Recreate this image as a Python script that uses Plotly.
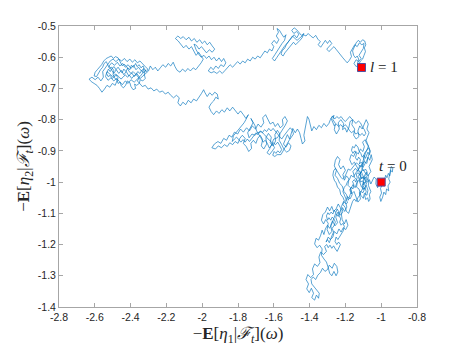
import plotly.graph_objects as go

# Hand-traced path of the sample trajectory (x, y), from t=0 to t=1
walk_xy = [
 (-1.000,-1.000),(-0.990,-0.988),(-0.982,-0.995),(-0.975,-0.978),(-0.968,-0.986),(-0.960,-0.972),(-0.952,-0.980),(-0.947,-0.962),(-0.938,-0.968),(-0.935,-0.955),(-0.944,-0.950),(-0.950,-0.965),(-0.958,-0.990),(-0.950,-1.000),(-0.962,-1.012),(-0.958,-1.028),(-0.970,-1.022),(-0.975,-1.040),(-0.985,-1.032),(-0.992,-1.048),(-1.002,-1.062),(-1.008,-1.048),(-0.998,-1.035),(-1.004,-1.020),(-0.995,-1.010),(-1.012,-1.004),(-1.020,-1.018),(-1.030,-1.006),(-1.028,-0.990),(-1.040,-0.984),(-1.048,-0.996),
 (-1.058,-1.006),(-1.066,-0.992),(-1.075,-1.000),(-1.072,-0.978),(-1.083,-0.968),(-1.094,-0.980),(-1.088,-0.998),(-1.102,-1.010),(-1.098,-0.988),(-1.112,-0.984),(-1.120,-1.000),(-1.110,-1.016),(-1.096,-1.022),(-1.084,-1.010),(-1.074,-1.026),(-1.080,-1.042),(-1.094,-1.036),(-1.100,-1.052),(-1.114,-1.042),(-1.124,-1.022),(-1.138,-1.016),(-1.132,-0.996),(-1.148,-0.986),(-1.158,-0.966),(-1.144,-0.956),(-1.130,-0.966),(-1.120,-0.946),(-1.106,-0.952),(-1.096,-0.934),(-1.080,-0.940),(-1.074,-0.920),(-1.064,-0.930),(-1.056,-0.912),(-1.050,-0.928),(-1.068,-0.950),(-1.058,-0.966),(-1.074,-0.980),(-1.090,-0.970),(-1.100,-0.960),(-1.116,-0.970),(-1.128,-0.982),(-1.118,-1.000),(-1.104,-0.996),(-1.094,-1.008),(-1.108,-1.026),(-1.122,-1.034),(-1.116,-1.054),(-1.130,-1.064),(-1.140,-1.048),(-1.152,-1.030),(-1.166,-1.038),(-1.172,-1.018),(-1.186,-1.010),(-1.180,-0.990),(-1.194,-0.980),(-1.206,-0.994),(-1.214,-0.976),(-1.200,-0.962),(-1.212,-0.948),(-1.226,-0.958),(-1.238,-0.944),(-1.230,-0.928),(-1.244,-0.918),(-1.256,-0.930),(-1.262,-0.948),(-1.250,-0.962),(-1.258,-0.978),(-1.244,-0.988),(-1.232,-1.004),(-1.218,-1.012),(-1.208,-1.030),(-1.194,-1.040),(-1.184,-1.058),
 (-1.178,-1.046),(-1.170,-1.034),(-1.176,-1.024),(-1.166,-1.016),(-1.158,-1.022),(-1.152,-1.010),(-1.160,-0.998),(-1.150,-0.992),(-1.142,-1.000),(-1.134,-0.986),(-1.140,-0.974),(-1.128,-0.970),(-1.120,-0.978),(-1.112,-0.966),(-1.104,-0.976),(-1.096,-0.990),(-1.088,-0.984),(-1.082,-0.994),(-1.090,-1.004),(-1.098,-1.000),(-1.106,-1.012),(-1.100,-1.024),(-1.090,-1.018),(-1.084,-1.030),(-1.092,-1.044),(-1.086,-1.056),(-1.076,-1.050),(-1.070,-1.062),(-1.062,-1.054),(-1.066,-1.040),(-1.058,-1.030),(-1.064,-1.018),(-1.072,-1.010),(-1.068,-0.996),(-1.078,-0.990),(-1.086,-0.978),(-1.078,-0.968),(-1.088,-0.958),(-1.098,-0.964),(-1.108,-0.956),(-1.102,-0.944),(-1.112,-0.936),(-1.122,-0.942),(-1.116,-0.928),(-1.126,-0.920),(-1.134,-0.930),(-1.144,-0.922),(-1.138,-0.910),(-1.148,-0.900),(-1.158,-0.908),(-1.166,-0.898),(-1.160,-0.886),(-1.150,-0.890),(-1.142,-0.880),(-1.130,-0.888),(-1.124,-0.900),(-1.114,-0.908),(-1.106,-0.920),(-1.096,-0.914),(-1.088,-0.924),(-1.082,-0.912),(-1.074,-0.904),(-1.066,-0.912),(-1.060,-0.900),(-1.070,-0.890),(-1.080,-0.896),(-1.088,-0.908),(-1.098,-0.926),(-1.110,-0.948),(-1.124,-0.956),(-1.136,-0.964),(-1.146,-0.974),(-1.156,-0.984),(-1.168,-0.978),(-1.176,-0.990),(-1.188,-0.998),(-1.196,-1.010),(-1.206,-1.016),(-1.214,-1.030),(-1.204,-1.044),(-1.196,-1.056),(-1.188,-1.066),
 (-1.196,-1.070),(-1.210,-1.062),(-1.222,-1.078),(-1.214,-1.096),(-1.228,-1.106),(-1.242,-1.096),(-1.254,-1.112),(-1.244,-1.130),(-1.258,-1.140),(-1.272,-1.124),(-1.282,-1.138),(-1.276,-1.158),(-1.290,-1.168),(-1.302,-1.152),(-1.296,-1.132),(-1.310,-1.120),(-1.322,-1.134),(-1.334,-1.122),(-1.326,-1.104),(-1.312,-1.096),(-1.300,-1.080),(-1.288,-1.092),(-1.276,-1.078),(-1.266,-1.094),(-1.252,-1.086),(-1.240,-1.070),(-1.228,-1.082),(-1.218,-1.120),(-1.206,-1.134),(-1.196,-1.120),(-1.186,-1.138),(-1.198,-1.152),(-1.212,-1.146),(-1.224,-1.160),(-1.236,-1.150),(-1.248,-1.166),(-1.262,-1.158),(-1.270,-1.176),(-1.284,-1.184),(-1.296,-1.176),(-1.308,-1.192),
 (-1.300,-1.184),(-1.290,-1.194),(-1.282,-1.180),(-1.274,-1.170),(-1.266,-1.160),(-1.274,-1.148),(-1.264,-1.140),(-1.256,-1.128),(-1.264,-1.118),(-1.274,-1.112),(-1.282,-1.122),(-1.292,-1.114),(-1.300,-1.122),(-1.306,-1.108),(-1.298,-1.098),(-1.290,-1.104),(-1.280,-1.096),(-1.270,-1.102),(-1.262,-1.090),(-1.254,-1.098),(-1.246,-1.086),(-1.238,-1.094),(-1.234,-1.108),(-1.226,-1.118),(-1.232,-1.128),(-1.224,-1.138),(-1.214,-1.132),(-1.206,-1.142),(-1.212,-1.156),(-1.222,-1.166),(-1.232,-1.176),(-1.242,-1.184),(-1.252,-1.176),(-1.258,-1.190),(-1.248,-1.200),(-1.238,-1.192),(-1.228,-1.200),(-1.236,-1.212),(-1.246,-1.222),(-1.256,-1.214),(-1.266,-1.204),(-1.276,-1.212),(-1.286,-1.202),(-1.296,-1.210),(-1.304,-1.200),
 (-1.316,-1.206),(-1.306,-1.222),(-1.322,-1.232),(-1.338,-1.224),(-1.348,-1.240),(-1.342,-1.258),(-1.356,-1.270),(-1.372,-1.262),(-1.384,-1.278),(-1.378,-1.296),(-1.394,-1.306),(-1.410,-1.296),(-1.420,-1.312),(-1.406,-1.326),(-1.416,-1.342),(-1.402,-1.354),(-1.390,-1.340),(-1.378,-1.356),(-1.388,-1.370),(-1.372,-1.378),(-1.362,-1.362),(-1.350,-1.372),(-1.346,-1.356),(-1.360,-1.344),(-1.374,-1.336),(-1.388,-1.326),(-1.392,-1.312),(-1.380,-1.304),(-1.366,-1.312),(-1.354,-1.298),(-1.340,-1.290),(-1.328,-1.276),(-1.314,-1.286),(-1.300,-1.280),(-1.290,-1.266),(-1.274,-1.276),(-1.262,-1.260),(-1.248,-1.270),(-1.242,-1.288),(-1.252,-1.300),(-1.264,-1.286),(-1.276,-1.300),(-1.288,-1.292),(-1.296,-1.274),(-1.306,-1.256),(-1.320,-1.246),(-1.334,-1.234),(-1.330,-1.214),(-1.344,-1.202),(-1.358,-1.210),(-1.372,-1.198),(-1.364,-1.180),(-1.350,-1.186),(-1.338,-1.170),
 (-1.330,-1.154),(-1.320,-1.168),(-1.312,-1.150),(-1.300,-1.138),(-1.288,-1.148),(-1.276,-1.134),(-1.264,-1.118),(-1.254,-1.100),(-1.240,-1.110),(-1.230,-1.094),(-1.216,-1.082),(-1.204,-1.094),(-1.192,-1.080),(-1.200,-1.062),(-1.188,-1.046),(-1.174,-1.054),(-1.162,-1.040),(-1.170,-1.022),(-1.158,-1.008),(-1.146,-1.018),(-1.136,-1.002),(-1.122,-0.992),(-1.112,-0.976),(-1.124,-0.962),(-1.138,-0.950),(-1.150,-0.936),(-1.164,-0.944),(-1.176,-0.928),(-1.168,-0.912),(-1.154,-0.918),(-1.142,-0.902),(-1.128,-0.910),(-1.116,-0.894),(-1.102,-0.902),(-1.094,-0.886),(-1.104,-0.872),(-1.090,-0.864),
 (-1.082,-0.876),(-1.072,-0.884),(-1.078,-0.898),(-1.090,-0.904),(-1.100,-0.918),(-1.094,-0.932),(-1.104,-0.942),(-1.116,-0.950),(-1.128,-0.944),(-1.138,-0.938),(-1.150,-0.946),(-1.162,-0.954),(-1.172,-0.962),(-1.184,-0.958),(-1.194,-0.970),(-1.204,-0.984),(-1.216,-0.990),(-1.226,-0.984),(-1.236,-0.974),(-1.246,-0.964),(-1.256,-0.956),(-1.266,-0.964),(-1.270,-0.978),(-1.262,-0.994),(-1.252,-1.002),(-1.244,-1.016),(-1.232,-1.024),(-1.226,-1.040),(-1.214,-1.048),(-1.206,-1.060),(-1.214,-1.072),(-1.202,-1.080),(-1.194,-1.094),(-1.182,-1.100),(-1.176,-1.088),(-1.168,-1.074),(-1.160,-1.062),(-1.150,-1.054),(-1.140,-1.062),(-1.130,-1.050),(-1.120,-1.042),(-1.112,-1.030),(-1.102,-1.034),(-1.094,-1.024),(-1.086,-1.012),(-1.080,-1.000),(-1.090,-0.994),(-1.100,-0.982),(-1.110,-0.990),(-1.118,-0.976),(-1.110,-0.962),(-1.098,-0.950),(-1.090,-0.940),(-1.080,-0.930),(-1.072,-0.918),(-1.064,-0.904),(-1.068,-0.890),(-1.076,-0.876),(-1.084,-0.866),
 (-1.078,-0.856),(-1.068,-0.842),(-1.080,-0.830),(-1.072,-0.814),(-1.084,-0.800),(-1.096,-0.814),(-1.106,-0.830),(-1.120,-0.820),(-1.130,-0.836),(-1.124,-0.854),(-1.140,-0.862),(-1.154,-0.850),(-1.148,-0.830),(-1.164,-0.816),(-1.158,-0.800),(-1.174,-0.806),(-1.180,-0.824),(-1.192,-0.840),(-1.202,-0.826),(-1.216,-0.832),(-1.210,-0.812),(-1.226,-0.800),(-1.240,-0.810),(-1.234,-0.830),(-1.250,-0.846),(-1.262,-0.832),(-1.256,-0.812),(-1.270,-0.800),(-1.264,-0.786),(-1.280,-0.796),
 (-1.272,-0.810),(-1.262,-0.820),(-1.250,-0.814),(-1.238,-0.822),(-1.226,-0.816),(-1.214,-0.824),(-1.202,-0.816),(-1.190,-0.822),(-1.178,-0.834),(-1.166,-0.842),(-1.154,-0.836),(-1.142,-0.846),(-1.130,-0.842),(-1.118,-0.850),(-1.106,-0.844),(-1.096,-0.852),(-1.086,-0.844),(-1.094,-0.832),(-1.106,-0.822),(-1.116,-0.810),(-1.128,-0.804),(-1.140,-0.812),(-1.152,-0.806),(-1.164,-0.796),(-1.176,-0.790),(-1.188,-0.798),(-1.200,-0.806),(-1.212,-0.800),(-1.224,-0.790),(-1.236,-0.796),(-1.248,-0.790),(-1.260,-0.798),(-1.272,-0.788),(-1.284,-0.800),
 (-1.292,-0.812),(-1.306,-0.822),(-1.320,-0.812),(-1.334,-0.826),(-1.348,-0.818),(-1.362,-0.832),(-1.376,-0.822),(-1.388,-0.836),(-1.396,-0.816),(-1.404,-0.798),(-1.412,-0.790),(-1.418,-0.808),(-1.426,-0.828),(-1.432,-0.850),(-1.426,-0.868),(-1.440,-0.878),(-1.448,-0.860),(-1.456,-0.842),(-1.468,-0.830),(-1.480,-0.842),(-1.494,-0.828),(-1.504,-0.844),(-1.512,-0.862),(-1.524,-0.848),(-1.536,-0.862),(-1.546,-0.878),(-1.532,-0.888),(-1.518,-0.874),(-1.504,-0.884),(-1.512,-0.898),(-1.528,-0.904),(-1.542,-0.896),
 (-1.556,-0.880),(-1.570,-0.866),(-1.566,-0.846),(-1.580,-0.834),(-1.594,-0.848),(-1.590,-0.868),(-1.604,-0.884),(-1.620,-0.874),(-1.614,-0.856),(-1.630,-0.844),(-1.644,-0.858),(-1.640,-0.878),(-1.656,-0.894),(-1.670,-0.884),(-1.662,-0.864),(-1.676,-0.850),(-1.690,-0.860),(-1.700,-0.876),(-1.714,-0.866),(-1.728,-0.876),(-1.724,-0.892),(-1.740,-0.902),(-1.754,-0.886),(-1.770,-0.876),(-1.760,-0.860),(-1.776,-0.850),(-1.790,-0.860),(-1.800,-0.876),(-1.816,-0.870),(-1.830,-0.880),(-1.846,-0.874),(-1.860,-0.886),(-1.876,-0.880),(-1.892,-0.890),(-1.910,-0.884),(-1.926,-0.894),(-1.946,-0.890),(-1.932,-0.878),(-1.912,-0.870),(-1.896,-0.876),(-1.880,-0.860),(-1.864,-0.866),(-1.850,-0.850),(-1.834,-0.856),(-1.820,-0.840),(-1.802,-0.846),(-1.786,-0.830),(-1.770,-0.840),(-1.752,-0.826),(-1.736,-0.836),(-1.720,-0.820),(-1.702,-0.830),(-1.688,-0.814),(-1.672,-0.824),(-1.656,-0.810),(-1.662,-0.794),(-1.646,-0.784),(-1.632,-0.798),(-1.620,-0.814),(-1.604,-0.808),(-1.592,-0.822),(-1.578,-0.812),(-1.564,-0.826),(-1.548,-0.818),(-1.552,-0.800),(-1.538,-0.790),(-1.524,-0.804),(-1.536,-0.818),(-1.560,-0.840),(-1.580,-0.858),(-1.600,-0.862),(-1.622,-0.892),(-1.638,-0.906),(-1.624,-0.912),(-1.608,-0.900),(-1.596,-0.890),(-1.612,-0.872),(-1.632,-0.862),(-1.652,-0.848),(-1.670,-0.838),(-1.690,-0.842),(-1.706,-0.850),(-1.722,-0.846),(-1.738,-0.858),(-1.746,-0.842),(-1.732,-0.826),(-1.716,-0.810),(-1.728,-0.796),
 (-1.718,-0.808),(-1.706,-0.818),(-1.696,-0.836),(-1.684,-0.846),(-1.672,-0.858),(-1.660,-0.872),(-1.648,-0.866),(-1.636,-0.876),(-1.626,-0.890),(-1.614,-0.884),(-1.602,-0.874),(-1.590,-0.880),(-1.578,-0.872),(-1.566,-0.884),(-1.556,-0.896),(-1.566,-0.906),(-1.578,-0.900),(-1.588,-0.908),(-1.598,-0.902),(-1.606,-0.914),(-1.594,-0.918),(-1.582,-0.912),(-1.560,-0.912),(-1.548,-0.900),(-1.536,-0.890),(-1.524,-0.876),(-1.514,-0.866),(-1.502,-0.856),(-1.490,-0.846),(-1.496,-0.834),(-1.508,-0.826),(-1.520,-0.834),(-1.532,-0.842),(-1.544,-0.852),(-1.556,-0.862),(-1.568,-0.854),(-1.580,-0.846),(-1.592,-0.836),(-1.604,-0.828),(-1.616,-0.836),(-1.628,-0.828),(-1.640,-0.838),(-1.652,-0.832),(-1.664,-0.842),(-1.676,-0.836),(-1.688,-0.848),(-1.700,-0.842),(-1.712,-0.852),(-1.724,-0.860),(-1.736,-0.870),(-1.748,-0.862),(-1.760,-0.872),(-1.772,-0.864),(-1.784,-0.872),(-1.796,-0.864),(-1.808,-0.856),(-1.820,-0.862),(-1.832,-0.870),(-1.826,-0.852),(-1.814,-0.844),(-1.802,-0.834),(-1.790,-0.826),(-1.778,-0.818),(-1.766,-0.810),(-1.756,-0.800),(-1.748,-0.790),
 (-1.742,-0.784),(-1.756,-0.796),(-1.770,-0.784),(-1.786,-0.772),(-1.800,-0.782),(-1.816,-0.770),(-1.830,-0.760),(-1.846,-0.772),(-1.860,-0.762),(-1.876,-0.776),(-1.890,-0.768),(-1.906,-0.780),(-1.920,-0.772),(-1.936,-0.784),(-1.950,-0.774),(-1.962,-0.760),(-1.950,-0.748),(-1.936,-0.740),(-1.924,-0.728),(-1.910,-0.734),(-1.916,-0.718),(-1.930,-0.712),(-1.944,-0.722),(-1.958,-0.714),(-1.972,-0.726),(-1.986,-0.712),(-1.992,-0.704),(-2.004,-0.716),(-2.018,-0.728),(-2.032,-0.740),(-2.048,-0.734),(-2.062,-0.746),(-2.078,-0.738),(-2.092,-0.752),(-2.108,-0.744),(-2.122,-0.756),(-2.136,-0.746),(-2.128,-0.730),(-2.144,-0.722),(-2.160,-0.730),(-2.176,-0.722),(-2.190,-0.712),(-2.206,-0.718),(-2.222,-0.708),(-2.238,-0.712),(-2.254,-0.702),(-2.270,-0.708),(-2.286,-0.698),(-2.302,-0.702),(-2.318,-0.690),(-2.334,-0.694),(-2.348,-0.684),
 (-2.362,-0.676),(-2.350,-0.664),(-2.366,-0.652),(-2.380,-0.662),(-2.394,-0.650),(-2.410,-0.660),(-2.424,-0.646),(-2.438,-0.656),(-2.452,-0.642),(-2.466,-0.652),(-2.480,-0.640),(-2.494,-0.652),(-2.508,-0.640),(-2.520,-0.628),(-2.506,-0.618),(-2.490,-0.626),(-2.474,-0.616),(-2.460,-0.628),(-2.444,-0.620),(-2.430,-0.632),(-2.414,-0.624),(-2.398,-0.636),(-2.384,-0.626),(-2.370,-0.640),(-2.356,-0.632),(-2.340,-0.644),(-2.326,-0.636),(-2.334,-0.652),(-2.348,-0.662),(-2.364,-0.670),(-2.380,-0.680),(-2.398,-0.672),(-2.414,-0.684),(-2.430,-0.676),(-2.446,-0.688),(-2.462,-0.678),(-2.478,-0.668),(-2.494,-0.676),(-2.510,-0.666),(-2.526,-0.674),(-2.540,-0.662),(-2.532,-0.646),(-2.518,-0.654),(-2.500,-0.662),(-2.484,-0.654),(-2.470,-0.666),(-2.486,-0.690),(-2.502,-0.684),(-2.516,-0.696),(-2.532,-0.690),(-2.546,-0.702),(-2.560,-0.712),(-2.574,-0.700),(-2.588,-0.690),(-2.604,-0.684),(-2.620,-0.678),(-2.632,-0.670),(-2.616,-0.664),(-2.598,-0.672),(-2.582,-0.664),(-2.566,-0.676),(-2.552,-0.664),(-2.556,-0.646),(-2.542,-0.634),(-2.528,-0.622),(-2.514,-0.612),(-2.498,-0.606),(-2.482,-0.614),(-2.466,-0.606),(-2.450,-0.612),(-2.434,-0.604),(-2.420,-0.614),(-2.404,-0.606),(-2.390,-0.616),(-2.376,-0.608),(-2.362,-0.618),(-2.348,-0.612),(-2.334,-0.622),(-2.318,-0.630),(-2.304,-0.638),
 (-2.310,-0.646),(-2.322,-0.640),(-2.330,-0.628),(-2.342,-0.634),(-2.352,-0.624),(-2.364,-0.630),(-2.372,-0.620),(-2.384,-0.632),(-2.396,-0.626),(-2.404,-0.640),(-2.416,-0.634),(-2.426,-0.646),(-2.438,-0.638),(-2.448,-0.650),(-2.458,-0.640),(-2.470,-0.632),(-2.482,-0.640),(-2.492,-0.630),(-2.504,-0.636),(-2.514,-0.646),(-2.524,-0.638),(-2.534,-0.652),(-2.526,-0.662),(-2.514,-0.658),(-2.502,-0.668),(-2.490,-0.662),(-2.478,-0.656),(-2.466,-0.662),(-2.454,-0.670),(-2.442,-0.664),(-2.430,-0.656),(-2.418,-0.664),(-2.406,-0.658),(-2.394,-0.668),(-2.382,-0.660),(-2.370,-0.656),(-2.360,-0.646),(-2.348,-0.652),(-2.338,-0.642),(-2.326,-0.650),(-2.316,-0.640),
 (-2.324,-0.654),(-2.318,-0.668),(-2.332,-0.676),(-2.346,-0.672),(-2.352,-0.684),(-2.366,-0.690),(-2.378,-0.686),(-2.372,-0.700),(-2.386,-0.704),(-2.398,-0.694),(-2.404,-0.682),(-2.418,-0.676),(-2.428,-0.690),(-2.440,-0.698),(-2.452,-0.692),(-2.458,-0.680),(-2.470,-0.684),(-2.476,-0.672),(-2.488,-0.668),(-2.498,-0.656),(-2.494,-0.642),(-2.506,-0.632),(-2.518,-0.636),(-2.528,-0.626),(-2.536,-0.614),(-2.548,-0.620),(-2.556,-0.632),(-2.568,-0.640),(-2.580,-0.650),(-2.590,-0.662),(-2.604,-0.660),(-2.598,-0.648),(-2.586,-0.640),(-2.574,-0.632),(-2.562,-0.624),(-2.550,-0.612),(-2.536,-0.604),(-2.522,-0.600),(-2.508,-0.596),(-2.496,-0.604),(-2.484,-0.598),(-2.470,-0.602),(-2.458,-0.616),(-2.446,-0.628),(-2.436,-0.622),(-2.422,-0.630),(-2.410,-0.644),(-2.398,-0.652),(-2.386,-0.646),(-2.374,-0.652),(-2.362,-0.660),(-2.350,-0.670),(-2.338,-0.664),(-2.326,-0.656),(-2.314,-0.650),(-2.300,-0.644),
 (-2.290,-0.628),(-2.276,-0.640),(-2.262,-0.632),(-2.248,-0.644),(-2.234,-0.634),(-2.220,-0.624),(-2.204,-0.632),(-2.190,-0.620),(-2.176,-0.628),(-2.162,-0.616),(-2.152,-0.630),(-2.140,-0.642),(-2.124,-0.648),(-2.110,-0.638),(-2.094,-0.646),(-2.080,-0.636),(-2.066,-0.644),(-2.050,-0.634),(-2.036,-0.640),(-2.020,-0.630),(-2.006,-0.618),
 (-1.994,-0.606),(-2.008,-0.596),(-2.020,-0.584),(-2.034,-0.594),(-2.048,-0.580),(-2.060,-0.566),(-2.074,-0.574),(-2.090,-0.562),(-2.104,-0.570),(-2.120,-0.558),(-2.134,-0.548),(-2.150,-0.540),(-2.136,-0.532),(-2.120,-0.540),(-2.106,-0.534),(-2.090,-0.544),(-2.074,-0.536),(-2.060,-0.548),(-2.044,-0.540),(-2.030,-0.552),(-2.014,-0.544),(-2.000,-0.556),(-1.986,-0.548),(-1.972,-0.560),(-1.958,-0.552),(-1.944,-0.564),(-1.930,-0.574),(-1.944,-0.584),(-1.960,-0.576),(-1.976,-0.586),(-1.990,-0.576),(-2.004,-0.566),(-2.018,-0.574),(-2.032,-0.562),(-2.046,-0.558),(-2.034,-0.576),(-2.020,-0.590),(-2.006,-0.600),(-1.990,-0.594),(-1.976,-0.604),(-1.962,-0.596),(-1.948,-0.608),(-1.934,-0.600),(-1.920,-0.612),(-1.906,-0.602),(-1.892,-0.614),(-1.880,-0.604),(-1.868,-0.618),(-1.880,-0.630),(-1.896,-0.624),(-1.910,-0.636),(-1.924,-0.628),(-1.938,-0.640),(-1.952,-0.632),(-1.966,-0.644),(-1.950,-0.650),(-1.934,-0.646),(-1.918,-0.652),(-1.902,-0.644),(-1.888,-0.652),(-1.872,-0.642),(-1.858,-0.632),(-1.844,-0.624),(-1.830,-0.632),
 (-1.816,-0.622),(-1.802,-0.614),(-1.788,-0.622),(-1.774,-0.612),(-1.760,-0.618),(-1.746,-0.606),(-1.732,-0.612),(-1.718,-0.600),(-1.704,-0.606),(-1.690,-0.596),(-1.676,-0.602),(-1.662,-0.590),(-1.650,-0.580),(-1.636,-0.586),(-1.624,-0.574),(-1.610,-0.580),(-1.600,-0.566),(-1.612,-0.556),(-1.598,-0.546),
 (-1.584,-0.556),(-1.572,-0.544),(-1.586,-0.532),(-1.574,-0.520),(-1.582,-0.508),(-1.568,-0.514),(-1.556,-0.526),(-1.544,-0.536),(-1.532,-0.528),(-1.540,-0.546),(-1.554,-0.556),(-1.566,-0.568),(-1.580,-0.580),(-1.594,-0.592),(-1.608,-0.604),(-1.596,-0.612),(-1.582,-0.600),(-1.570,-0.588),(-1.556,-0.578),(-1.542,-0.566),(-1.528,-0.556),(-1.514,-0.546),(-1.500,-0.536),(-1.486,-0.528),(-1.472,-0.538),(-1.460,-0.526),(-1.474,-0.518),(-1.488,-0.524),(-1.500,-0.514),(-1.486,-0.506),(-1.472,-0.512),(-1.458,-0.520),(-1.446,-0.530),(-1.432,-0.524),
 (-1.442,-0.538),(-1.454,-0.546),(-1.466,-0.552),(-1.478,-0.560),(-1.490,-0.552),(-1.502,-0.560),(-1.514,-0.570),(-1.526,-0.578),(-1.538,-0.586),(-1.548,-0.596),(-1.560,-0.590),(-1.552,-0.578),(-1.540,-0.572),(-1.530,-0.560),(-1.520,-0.550),(-1.508,-0.542),(-1.496,-0.532),(-1.484,-0.540),(-1.470,-0.546),(-1.458,-0.540),(-1.446,-0.534),(-1.434,-0.528),
 (-1.420,-0.532),(-1.408,-0.524),(-1.394,-0.532),(-1.380,-0.538),(-1.366,-0.530),(-1.354,-0.542),(-1.340,-0.550),(-1.352,-0.560),(-1.338,-0.568),(-1.324,-0.558),(-1.312,-0.546),(-1.300,-0.556),(-1.288,-0.546),(-1.276,-0.556),(-1.290,-0.566),(-1.304,-0.574),(-1.292,-0.582),(-1.278,-0.574),(-1.264,-0.566),(-1.250,-0.576),
 (-1.238,-0.586),(-1.226,-0.594),(-1.214,-0.602),(-1.202,-0.610),(-1.190,-0.618),(-1.178,-0.610),(-1.166,-0.598),(-1.172,-0.584),(-1.160,-0.572),(-1.148,-0.560),(-1.134,-0.566),(-1.122,-0.554),(-1.108,-0.560),(-1.096,-0.556),(-1.100,-0.572),(-1.112,-0.584),(-1.124,-0.594),(-1.112,-0.604),(-1.126,-0.614),(-1.140,-0.608),(-1.152,-0.620),(-1.140,-0.630),(-1.126,-0.624),
 (-1.116,-0.612),(-1.104,-0.606),(-1.096,-0.594),(-1.088,-0.582),(-1.094,-0.570),(-1.086,-0.560),(-1.092,-0.548),(-1.104,-0.544),(-1.116,-0.552),(-1.128,-0.546),(-1.140,-0.554),(-1.150,-0.566),(-1.160,-0.580),(-1.154,-0.594),(-1.144,-0.602),(-1.134,-0.596),(-1.126,-0.606),(-1.132,-0.620),(-1.122,-0.628),(-1.114,-0.634),(-1.110,-0.633),
]
path_x = [p[0] for p in walk_xy]
path_y = [p[1] for p in walk_xy]

marker_x = [-1.000, -1.110]
marker_y = [-1.000, -0.633]
label_text = ["<i>t</i> = 0", "<i>l</i> = 1"]
label_x = [-0.935, -0.985]
label_y = [-0.948, -0.631]

x_ticks = [-2.8, -2.6, -2.4, -2.2, -2.0, -1.8, -1.6, -1.4, -1.2, -1.0, -0.8]
x_ticktext = ["-2.8", "-2.6", "-2.4", "-2.2", "-2", "-1.8", "-1.6", "-1.4", "-1.2", "-1", "-0.8"]
y_ticks = [-0.5, -0.6, -0.7, -0.8, -0.9, -1.0, -1.1, -1.2, -1.3, -1.4]
y_ticktext = ["-0.5", "-0.6", "-0.7", "-0.8", "-0.9", "-1", "-1.1", "-1.2", "-1.3", "-1.4"]

fig = go.Figure()
fig.add_trace(go.Scatter(x=path_x, y=path_y, mode="lines",
                         line=dict(color="#0072BD", width=0.65), showlegend=False,
                         hoverinfo="skip"))
fig.add_trace(go.Scatter(x=marker_x, y=marker_y, mode="markers",
                         marker=dict(symbol="square", size=8, color="#FF0000",
                                     line=dict(color="#5050a0", width=1)),
                         showlegend=False))
for tx, lx, ly in zip(label_text, label_x, label_y):
    fig.add_annotation(x=lx, y=ly, text=tx, showarrow=False,
                       font=dict(family="Liberation Serif, serif", size=15, color="#222"))

axis_common = dict(showgrid=False, zeroline=False, showline=True, mirror="ticks",
                   linecolor="#a6a6a6", linewidth=1, ticks="inside", ticklen=4,
                   tickcolor="#a6a6a6", automargin=False,
                   tickfont=dict(family="Liberation Sans, Arial, sans-serif", size=10.5, color="#262626"))
fig.update_xaxes(range=[-2.8, -0.8], tickvals=x_ticks, ticktext=x_ticktext,
                 title=dict(text="−<b>E</b>[<i>η</i><sub>1</sub>|<i>ℱ</i><sub><i>t</i></sub>](<i>ω</i>)",
                            font=dict(family="Liberation Serif, serif", size=17, color="#262626"),
                            standoff=5),
                 **axis_common)
fig.update_yaxes(range=[-1.4, -0.5], tickvals=y_ticks, ticktext=y_ticktext,
                 title=dict(text="−<b>E</b>[<i>η</i><sub>2</sub>|<i>ℱ</i><sub><i>t</i></sub>](<i>ω</i>)",
                            font=dict(family="Liberation Serif, serif", size=17, color="#262626"),
                            standoff=3),
                 **axis_common)
# the page body has an 8px default margin, so the figure is sized to sit inside the window
fig.update_layout(width=453, height=338, plot_bgcolor="white", paper_bgcolor="white",
                  margin=dict(l=51, r=44, t=18, b=39))
fig.write_html("out.html")
